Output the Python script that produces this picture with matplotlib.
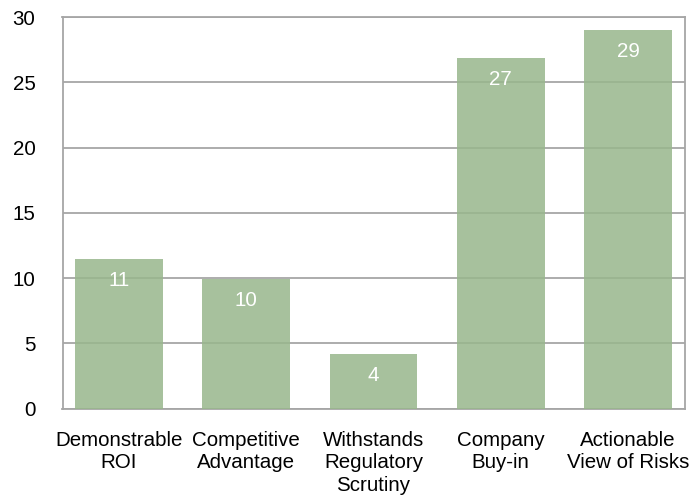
import matplotlib
matplotlib.use("Agg")
import matplotlib.pyplot as plt

# Data
categories = ["Demonstrable\nROI", "Competitive\nAdvantage", "Withstands\nRegulatory\nScrutiny",
              "Company\nBuy-in", "Actionable\nView of Risks"]
values = [11.45, 9.9, 4.2, 26.85, 29.0]
yticks = [0, 5, 10, 15, 20, 25, 30]

plt.rcParams['font.family'] = ['Liberation Sans', 'DejaVu Sans']

fig = plt.figure(figsize=(6.93, 4.97), dpi=100)
ax = fig.add_axes([62.5 / 693, 1 - 408.5 / 497, 622.5 / 693, 391.5 / 497])

x = range(len(categories))
bars = ax.bar(x, values, width=0.69, color='#98b78c', alpha=0.85, zorder=3)

# value labels inside the top of each bar
for b, v in zip(bars, values):
    ax.annotate(f"{v:.0f}", (b.get_x() + b.get_width() / 2, b.get_height()),
                xytext=(0, -15.5), textcoords='offset points',
                ha='center', va='center', color='white', fontsize=14.8, zorder=4)

ax.set_xlim(-0.443, 4.447)
ax.set_ylim(0, 30)
ax.set_yticks(yticks)
ax.set_xticks(list(x))
ax.set_xticklabels(categories, fontsize=14.8, linespacing=1.25)
ax.tick_params(axis='y', labelsize=14.8, length=0, pad=19.5)
ax.tick_params(axis='x', length=0, pad=16)

ax.grid(axis='y', color='#a6a6a6', linewidth=1.3, zorder=1)
ax.set_axisbelow(True)
for s in ax.spines.values():
    s.set_color('#a6a6a6')
    s.set_linewidth(1.3)

fig.savefig("out.png", dpi=100)
